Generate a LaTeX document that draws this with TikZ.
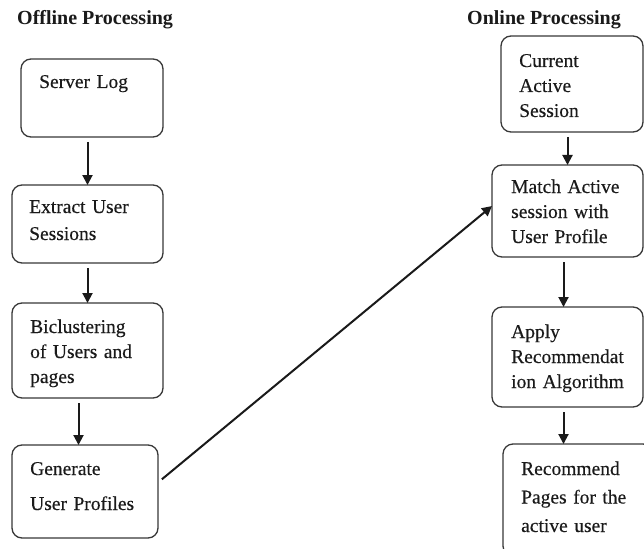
\documentclass[tikz,border=0pt]{standalone}
\usepackage{fontspec}
\setmainfont{Liberation Serif}
\newfontfamily\boxfont[FakeBold=0.35]{Liberation Serif}
\usetikzlibrary{arrows.meta}
\definecolor{ink}{HTML}{1A1A1A}
\definecolor{edge}{HTML}{383838}
\begin{document}
\begin{tikzpicture}[x=1pt,y=-1pt,
  stepbox/.style={draw=edge,line width=1.3pt,rounded corners=10pt,
    inner sep=0pt,outer sep=0pt,anchor=north west},
  boxtext/.style={text=ink,anchor=base west,inner sep=0pt,text width=140pt,
    align=left,font=\boxfont\fontsize{19.5}{25}\selectfont},
  heading/.style={text=ink,anchor=base west,inner sep=0pt,
    font=\fontsize{20}{24}\selectfont\bfseries},
  flow/.style={draw=ink,line width=2pt,
    -{Triangle[length=10pt,width=10pt]},shorten <=5pt}]
\fill[white] (0,0) rectangle (644,548);
\clip (0,0) rectangle (644,548);

% headings
\node[heading] (hoff) at (17,25) {Offline Processing};
\node[heading] (hon) at (467,25) {Online Processing};

% offline column
\node[stepbox,minimum width=142pt,minimum height=78pt] (log) at (21,59) {};
\node[stepbox,minimum width=151pt,minimum height=78pt] (ext) at (12,185) {};
\node[stepbox,minimum width=151pt,minimum height=95pt] (bic) at (12,303) {};
\node[stepbox,minimum width=146pt,minimum height=93pt] (gen) at (12,445) {};

\node[boxtext] (tlog) at (39,88) {Server Log};
\node[boxtext] (text) at (29,213) {Extract User\\[2pt]Sessions};
\node[boxtext] (tbic) at (30,333) {Biclustering\\of Users and\\pages};
\node[boxtext] (tgen) at (30,475) {Generate\\[10pt]User Profiles};

% online column
\node[stepbox,minimum width=142pt,minimum height=96pt] (cur) at (501,36) {};
\node[stepbox,minimum width=151pt,minimum height=92pt] (mat) at (492,165) {};
\node[stepbox,minimum width=151pt,minimum height=100pt] (app) at (492,307) {};
\node[stepbox,minimum width=150pt,minimum height=112pt] (rec) at (503,444) {};

\node[boxtext] (tcur) at (519,67) {Current\\Active\\Session};
\node[boxtext] (tmat) at (511,193) {Match Active\\session with\\User Profile};
\node[boxtext] (tapp) at (511,338) {Apply\\Recommendat\\ion Algorithm};
\node[boxtext] (trec) at (521,475) {Recommend\\[3.5pt]Pages for the\\[3.5pt]active user};

% connectors
\draw[flow] (log.south -| ext.north) -- (ext.north);
\draw[flow] (ext.south) -- (bic.north);
\draw[flow] ([xshift=-9pt]bic.south) -- ([xshift=-9pt]bic.south |- gen.north);
\draw[flow] ([yshift=9pt]gen.east) -- ([yshift=5pt]mat.west);
\draw[flow] (cur.south -| mat.north) -- (mat.north);
\draw[flow] ([xshift=-4pt]mat.south) -- ([xshift=-4pt]mat.south |- app.north);
\draw[flow] ([xshift=-4pt]app.south) -- ([xshift=-4pt]app.south |- rec.north);
\end{tikzpicture}
\end{document}
